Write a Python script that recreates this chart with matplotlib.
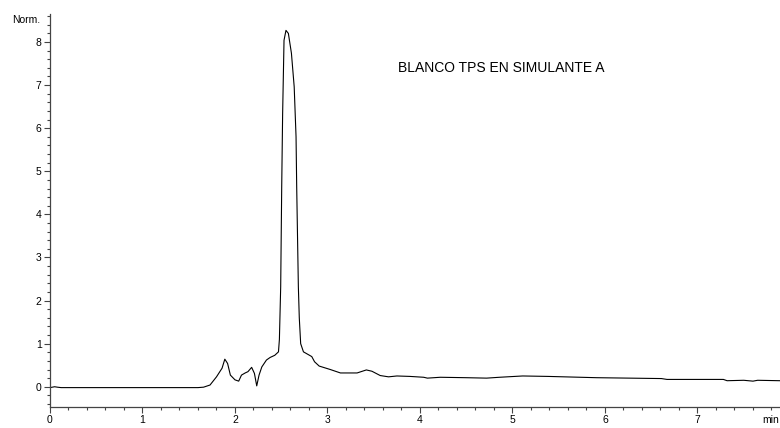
import matplotlib
matplotlib.use("Agg")
import matplotlib.pyplot as plt
from matplotlib.ticker import MultipleLocator
import matplotlib.transforms as mtransforms

plt.rcParams['font.family'] = ['Liberation Sans', 'DejaVu Sans']

# retention time (min) and normalized signal
time_min = [0.00, 0.05, 0.08, 0.12, 0.20, 1.00, 1.60, 1.66, 1.73, 1.80, 1.86, 1.89,
            1.92, 1.95, 2.00, 2.04, 2.07, 2.11, 2.14, 2.18, 2.21, 2.235, 2.26, 2.29,
            2.34, 2.38, 2.43, 2.47, 2.48, 2.494, 2.505, 2.515, 2.53, 2.551, 2.577,
            2.61, 2.64, 2.66, 2.667, 2.685, 2.695, 2.71, 2.74, 2.83, 2.86, 2.91,
            3.03, 3.14, 3.32, 3.42, 3.48, 3.57, 3.66, 3.75, 3.89, 4.04, 4.08, 4.22,
            4.50, 4.72, 4.86, 5.11, 5.38, 5.91, 6.61, 6.67, 7.28, 7.32, 7.50, 7.60,
            7.65, 7.89]
signal = [-0.02, 0.00, -0.01, -0.02, -0.02, -0.02, -0.02, -0.01, 0.04, 0.23, 0.43, 0.64,
          0.54, 0.27, 0.16, 0.13, 0.27, 0.32, 0.35, 0.45, 0.31, 0.02, 0.27, 0.46,
          0.62, 0.68, 0.73, 0.81, 1.10, 2.32, 4.64, 6.34, 8.04, 8.27, 8.20,
          7.74, 6.96, 5.80, 4.64, 2.32, 1.60, 1.00, 0.81, 0.70, 0.58, 0.48,
          0.40, 0.32, 0.32, 0.39, 0.36, 0.26, 0.23, 0.25, 0.24, 0.22, 0.20, 0.22,
          0.21, 0.20, 0.22, 0.25, 0.24, 0.21, 0.19, 0.17, 0.17, 0.14, 0.15, 0.13,
          0.15, 0.14]

x_ticks = [0, 1, 2, 3, 4, 5, 6, 7]
y_ticks = [0, 1, 2, 3, 4, 5, 6, 7, 8]
title_text = "BLANCO TPS EN SIMULANTE A"
y_unit = "Norm."
x_unit = "min"

fig = plt.figure(figsize=(7.8, 4.28), dpi=100)
ax = fig.add_axes([50/780, 21/428, 730/780, 393/428])
ax.plot(time_min, signal, color='black', lw=0.8)

ax.set_xlim(0, 7.892)
ax.set_ylim(-0.47, 8.65)
ax.set_xticks(x_ticks)
ax.set_yticks(y_ticks)
ax.xaxis.set_minor_locator(MultipleLocator(0.2))
ax.yaxis.set_minor_locator(MultipleLocator(0.2))
for s in ['top', 'right']:
    ax.spines[s].set_visible(False)
for s in ['left', 'bottom']:
    ax.spines[s].set_color('#444444')
    ax.spines[s].set_linewidth(0.9)
ax.tick_params(which='major', length=4, width=0.8, color='#444444', labelsize=7.5, pad=2)
ax.tick_params(which='minor', length=2, width=0.8, color='#444444')

ax.text(3.76, 7.39, title_text, fontsize=10, ha='left', va='center')
fig.text(40/780, 1 - 20/428, y_unit, fontsize=7.5, ha='right', va='center')
fig.text(779/780, 1 - 420/428, x_unit, fontsize=7.5, ha='right', va='center')

fig.savefig("out.png", dpi=100)
